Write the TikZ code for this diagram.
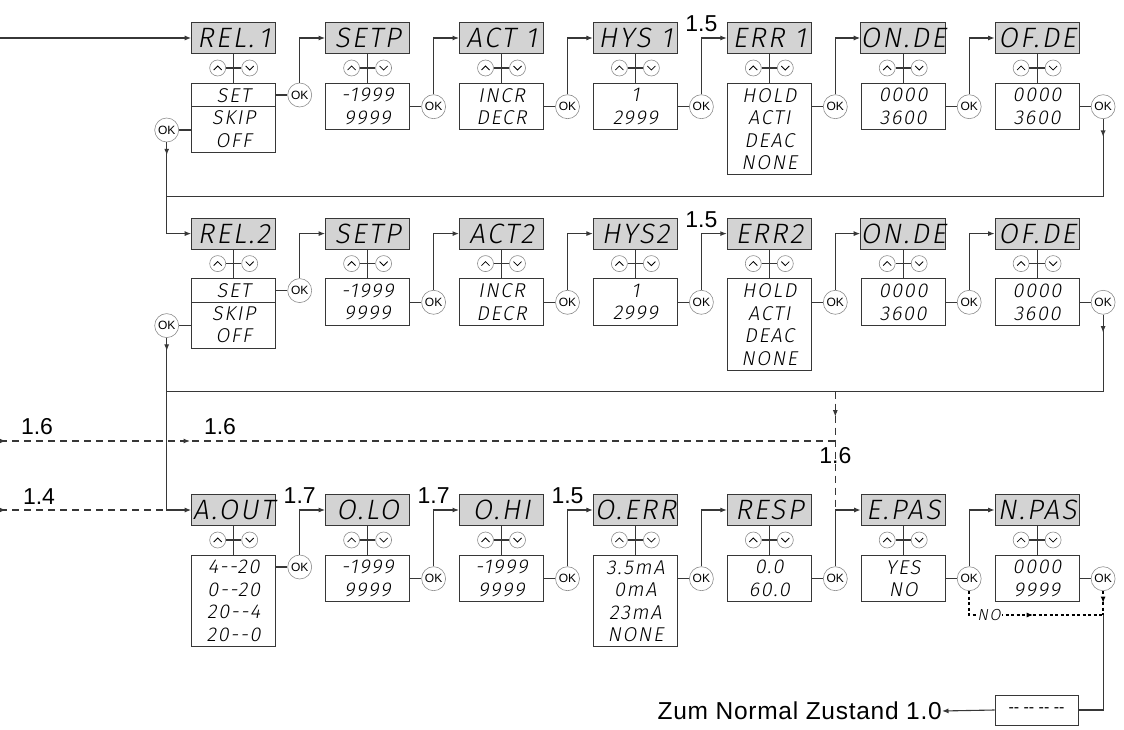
\documentclass[tikz,border=0pt]{standalone}
\usepackage{fontspec}
\setmainfont{Liberation Sans}
\IfFontExistsTF{Fira Sans Light}
  {\newfontfamily\lcd[FakeSlant=0.18,LetterSpace=8]{Fira Sans Light}}
  {\newfontfamily\lcd[FakeSlant=0.18,LetterSpace=8]{Liberation Sans}}
\definecolor{lcdgray}{RGB}{211,211,211}
\definecolor{linegray}{RGB}{55,55,55}
\definecolor{btngray}{RGB}{140,140,140}
\usetikzlibrary{arrows.meta,decorations.markings}

\tikzset{
  conn/.style={draw=linegray, line width=1.1pt},
  arr/.style={conn, -{Latex[length=6.5pt,width=5pt]}},
  dashline/.style={conn, dash pattern=on 7pt off 5pt},
  dotline/.style={draw=black, line width=1.6pt, dash pattern=on 3pt off 2.5pt},
  arrowat/.style={postaction={decorate, decoration={markings, mark=at position #1 with {\arrow{Latex[length=6.5pt,width=5pt]}}}}},
  lcdhead/.style={draw=linegray, fill=lcdgray, line width=1pt, minimum width=84pt, minimum height=31pt, inner sep=0pt, font=\lcd\fontsize{28}{28}\selectfont},
  lcdval/.style={draw=linegray, fill=white, line width=1pt, minimum width=84pt, inner sep=0pt, anchor=north, align=center, font=\lcd\fontsize{20}{22.5}\selectfont},
  updown/.style={circle, draw=btngray, fill=white, line width=0.6pt, minimum size=16pt, inner sep=0pt},
  chev/.style={draw=black, line width=0.8pt},
  okbtn/.style={circle, draw=btngray, fill=white, line width=0.6pt, minimum size=24pt, inner sep=0pt, font=\fontsize{12}{12}\selectfont},
  steplbl/.style={inner sep=0pt, font=\fontsize{23}{23}\selectfont},
  lcdno/.style={fill=white, inner sep=1pt, font=\lcd\fontsize{16}{16}\selectfont},
  endbox/.style={draw=linegray, line width=1pt, minimum width=83pt, minimum height=30pt, inner sep=0pt, font=\fontsize{16}{16}\selectfont},
}

% name, x, y, header text, value text, value box height
\newcommand{\lcdpanel}[6]{%
  \node[lcdhead] (#1h) at (#2,#3) {#4};
  \node[updown] (#1u) at (#2-16,#3+30) {};
  \node[updown] (#1d) at (#2+16,#3+30) {};
  \node[lcdval, minimum height=#6] (#1v) at (#2,#3+44.7) {#5};
  \draw[conn] (#1h.south) -- (#1v.north);
  \draw[conn] (#1u.east) -- (#1d.west);
  \draw[chev] (#1u.center) +(-4,2) -- +(0,-2) -- +(4,2);
  \draw[chev] (#1d.center) +(-4,-2) -- +(0,2) -- +(4,-2);
}

\begin{document}
\begin{tikzpicture}[x=1pt, y={(0pt,-1pt)}]
  \useasboundingbox (0,0) rectangle (1124,730);

  %% relay 1
  \lcdpanel{rel1}{233.7}{38}{REL.\,1}{SET\\SKIP\\OFF}{69.6pt}
  \lcdpanel{setp1}{367.6}{38}{SETP}{-1999\\9999}{46.7pt}
  \lcdpanel{act1}{501.5}{38}{ACT 1}{INCR\\DECR}{46.7pt}
  \lcdpanel{hys1}{635.4}{38}{HYS 1}{1\\2999}{46.7pt}
  \lcdpanel{err1}{769.3}{38}{ERR 1}{HOLD\\ACTI\\DEAC\\NONE}{91.7pt}
  \lcdpanel{onde1}{903.2}{38}{ON.DE}{0000\\3600}{46.7pt}
  \lcdpanel{ofde1}{1037.1}{38}{OF.DE}{0000\\3600}{46.7pt}
  \draw[conn] (rel1v.north west) ++(0,24) -- ++(84,0);

  \node[okbtn] (okrel1) at (299.7,95) {OK};
  \node[okbtn] (okrel1L) at (166.7,130) {OK};
  \node[okbtn] (oksetp1) at (433.6,106.7) {OK};
  \node[okbtn] (okact1) at (567.5,106.7) {OK};
  \node[okbtn] (okhys1) at (701.4,106.7) {OK};
  \node[okbtn] (okerr1) at (835.3,106.7) {OK};
  \node[okbtn] (okonde1) at (969.2,106.7) {OK};
  \node[okbtn] (okofde1) at (1103.1,106.7) {OK};

  \coordinate (in10) at (0,38);
  \draw[arr] (in10) -- (rel1h.west);
  \draw[conn] (rel1v.east |- okrel1) -- (okrel1);
  \draw[arr] (okrel1.north) |- (setp1h.west);
  \draw[conn] (setp1v.east |- oksetp1) -- (oksetp1);
  \draw[arr] (oksetp1.north) |- (act1h.west);
  \draw[conn] (act1v.east |- okact1) -- (okact1);
  \draw[arr] (okact1.north) |- (hys1h.west);
  \draw[conn] (hys1v.east |- okhys1) -- (okhys1);
  \draw[arr] (okhys1.north) |- (err1h.west);
  \draw[conn] (err1v.east |- okerr1) -- (okerr1);
  \draw[arr] (okerr1.north) |- (onde1h.west);
  \draw[conn] (onde1v.east |- okonde1) -- (okonde1);
  \draw[arr] (okonde1.north) |- (ofde1h.west);
  \draw[conn] (ofde1v.east |- okofde1) -- (okofde1);
  \draw[conn] (rel1v.west |- okrel1L) -- (okrel1L);

  \node[steplbl] (lbl15a) at (701.4,24) {1.5};

  %% relay 2
  \lcdpanel{rel2}{233.7}{233.6}{REL.2}{SET\\SKIP\\OFF}{69.6pt}
  \lcdpanel{setp2}{367.6}{233.6}{SETP}{-1999\\9999}{46.7pt}
  \lcdpanel{act2}{501.5}{233.6}{ACT2}{INCR\\DECR}{46.7pt}
  \lcdpanel{hys2}{635.4}{233.6}{HYS2}{1\\2999}{46.7pt}
  \lcdpanel{err2}{769.3}{233.6}{ERR2}{HOLD\\ACTI\\DEAC\\NONE}{91.7pt}
  \lcdpanel{onde2}{903.2}{233.6}{ON.DE}{0000\\3600}{46.7pt}
  \lcdpanel{ofde2}{1037.1}{233.6}{OF.DE}{0000\\3600}{46.7pt}
  \draw[conn] (rel2v.north west) ++(0,24) -- ++(84,0);

  \coordinate (row1) at (0,196.5);
  \draw[conn, arrowat=18pt] (okofde1.south) |- (okrel1L |- row1);
  \draw[arr, arrowat=13pt] (okrel1L.south) |- (rel2h.west);

  \node[okbtn] (okrel2) at (299.7,290.6) {OK};
  \node[okbtn] (okrel2L) at (166.7,325.6) {OK};
  \node[okbtn] (oksetp2) at (433.6,302.3) {OK};
  \node[okbtn] (okact2) at (567.5,302.3) {OK};
  \node[okbtn] (okhys2) at (701.4,302.3) {OK};
  \node[okbtn] (okerr2) at (835.3,302.3) {OK};
  \node[okbtn] (okonde2) at (969.2,302.3) {OK};
  \node[okbtn] (okofde2) at (1103.1,302.3) {OK};

  \draw[conn] (rel2v.east |- okrel2) -- (okrel2);
  \draw[arr] (okrel2.north) |- (setp2h.west);
  \draw[conn] (setp2v.east |- oksetp2) -- (oksetp2);
  \draw[arr] (oksetp2.north) |- (act2h.west);
  \draw[conn] (act2v.east |- okact2) -- (okact2);
  \draw[arr] (okact2.north) |- (hys2h.west);
  \draw[conn] (hys2v.east |- okhys2) -- (okhys2);
  \draw[arr] (okhys2.north) |- (err2h.west);
  \draw[conn] (err2v.east |- okerr2) -- (okerr2);
  \draw[arr] (okerr2.north) |- (onde2h.west);
  \draw[conn] (onde2v.east |- okonde2) -- (okonde2);
  \draw[arr] (okonde2.north) |- (ofde2h.west);
  \draw[conn] (ofde2v.east |- okofde2) -- (okofde2);
  \draw[conn] (rel2v.west |- okrel2L) -- (okrel2L);

  \node[steplbl] (lbl15b) at (701.4,219.6) {1.5};

  %% analog output
  \lcdpanel{aout}{233.7}{510}{A.OUT}{4-{}-20\\0-{}-20\\20-{}-4\\20-{}-0}{91.7pt}
  \lcdpanel{olo}{367.6}{510}{O.LO}{-1999\\9999}{46.7pt}
  \lcdpanel{ohi}{501.5}{510}{O.HI}{-1999\\9999}{46.7pt}
  \lcdpanel{oerr}{635.4}{510}{O.ERR}{3.5mA\\0mA\\23mA\\NONE}{91.7pt}
  \lcdpanel{resp}{769.3}{510}{RESP}{0.0\\60.0}{46.7pt}
  \lcdpanel{epas}{903.2}{510}{E.PAS}{YES\\NO}{46.7pt}
  \lcdpanel{npas}{1037.1}{510}{N.PAS}{0000\\9999}{46.7pt}

  \coordinate (row2) at (0,391.7);
  \draw[conn, arrowat=18pt] (okofde2.south) |- (okrel2L |- row2);
  \draw[arr, arrowat=13pt] (okrel2L.south) |- (aouth.west);

  \node[okbtn] (okaout) at (299.7,567) {OK};
  \node[okbtn] (okolo) at (433.6,578.7) {OK};
  \node[okbtn] (okohi) at (567.5,578.7) {OK};
  \node[okbtn] (okoerr) at (701.4,578.7) {OK};
  \node[okbtn] (okresp) at (835.3,578.7) {OK};
  \node[okbtn] (okepas) at (969.2,578.7) {OK};
  \node[okbtn] (oknpas) at (1103.1,578.7) {OK};

  \draw[conn] (aoutv.east |- okaout) -- (okaout);
  \draw[arr] (okaout.north) |- (oloh.west);
  \draw[conn] (olov.east |- okolo) -- (okolo);
  \draw[arr] (okolo.north) |- (ohih.west);
  \draw[conn] (ohiv.east |- okohi) -- (okohi);
  \draw[arr] (okohi.north) |- (oerrh.west);
  \draw[conn] (oerrv.east |- okoerr) -- (okoerr);
  \draw[arr] (okoerr.north) |- (resph.west);
  \draw[conn] (respv.east |- okresp) -- (okresp);
  \draw[arr] (okresp.north) |- (epash.west);
  \draw[conn] (epasv.east |- okepas) -- (okepas);
  \draw[arr] (okepas.north) |- (npash.west);
  \draw[conn] (npasv.east |- oknpas) -- (oknpas);

  \node[steplbl] (lbl17a) at (299.7,496) {1.7};
  \node[steplbl] (lbl17b) at (433.6,496) {1.7};
  \node[steplbl] (lbl15c) at (567.5,496) {1.5};

  %% jumps from other menus
  \coordinate (in16) at (0,441);
  \coordinate (in14) at (0,510);
  \draw[dashline, arrowat=6pt, arrowat=190pt] (in16) -- (okresp |- in16);
  \draw[dashline, arrowat=25pt] (okresp |- row2) -- (okresp |- epash);
  \draw[dashline, arrowat=6pt] (in14) -- (okrel2L |- aouth);
  \node[steplbl] (lbl16a) at (37,427) {1.6};
  \node[steplbl] (lbl16b) at (220,427) {1.6};
  \node[steplbl] (lbl14) at (39,497) {1.4};
  \node[steplbl] (lbl16c) at (835.3,456) {1.6};

  %% exit
  \coordinate (jno) at (1103.1,615);
  \draw[dotline, arrowat=88pt] (okepas.south) |- (jno);
  \node[lcdno] (nolbl) at (989,615) {NO};
  \draw[dotline, arrowat=12pt] (oknpas.south) -- (jno);
  \node[endbox] (endbox) at (1036.5,710) {-{}- -{}- -{}- -{}-};
  \draw[conn] (jno) |- (endbox.east);
  \node[inner sep=0pt, anchor=east, font=\fontsize{24.5}{24.5}\selectfont\addfontfeature{LetterSpace=3}] (zum) at (942,711) {Zum Normal Zustand 1.0};
  \draw[arr] (endbox.west) -- (zum.east);
\end{tikzpicture}
\end{document}
